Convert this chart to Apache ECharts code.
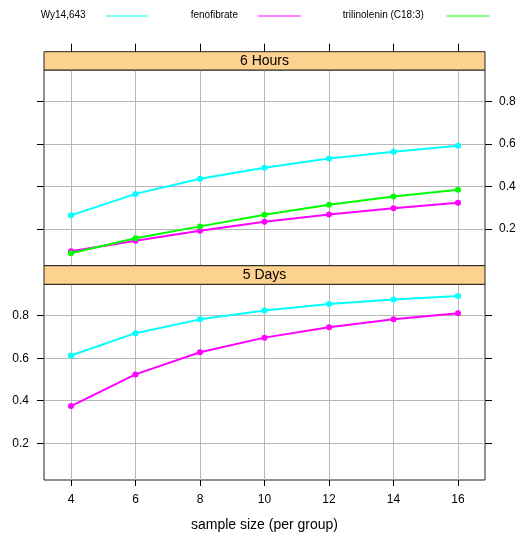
<!DOCTYPE html>
<html>
<head>
<meta charset="utf-8">
<script src="https://cdn.jsdelivr.net/npm/echarts@6/dist/echarts.min.js"></script>
<style>html,body{margin:0;padding:0;background:#fff}#c{width:521px;height:533px}</style>
</head>
<body>
<div id="c"></div>
<script>
const sampleSizes = [4, 6, 8, 10, 12, 14, 16];
const xTicks = [4, 6, 8, 10, 12, 14, 16];
const yTicks = [0.2, 0.4, 0.6, 0.8];
const seriesNames = ['Wy14,643', 'fenofibrate', 'trilinolenin (C18:3)'];
const seriesColors = ['#00FFFF', '#FF00FF', '#00FF00'];
const panelNames = ['6 Hours', '5 Days'];
// 6 Hours panel
const hours6_wy = [0.264, 0.365, 0.436, 0.488, 0.531, 0.563, 0.591];
const hours6_feno = [0.095, 0.144, 0.192, 0.234, 0.268, 0.297, 0.323];
const hours6_tri = [0.086, 0.156, 0.212, 0.267, 0.314, 0.353, 0.384];
// 5 Days panel
const days5_wy = [0.613, 0.718, 0.783, 0.825, 0.855, 0.877, 0.893];
const days5_feno = [0.375, 0.524, 0.628, 0.697, 0.746, 0.783, 0.812];

const X_MIN = 3.163, X_MAX = 16.837, Y_MIN = 0.027, Y_MAX = 0.948;
const FONT = 'Liberation Sans, Arial, sans-serif';
const gridLine = { show: true, lineStyle: { color: '#b8b8b8', width: 1 } };

function pairs(ys) { return sampleSizes.map((x, i) => [x, ys[i]]); }

const chart = echarts.init(document.getElementById('c'), null, { renderer: 'canvas' });

function xAxisDef(gridIndex, opts) {
  return Object.assign({
    type: 'value', gridIndex, min: X_MIN, max: X_MAX,
    axisLine: { show: false },
    axisTick: { show: false, customValues: xTicks },
    axisLabel: { show: false, customValues: xTicks },
    splitLine: { show: false }
  }, opts);
}
function yAxisDef(gridIndex, opts) {
  return Object.assign({
    type: 'value', gridIndex, min: Y_MIN, max: Y_MAX,
    axisLine: { show: false },
    axisTick: { show: true, inside: false, length: 7, lineStyle: { color: '#000' }, customValues: yTicks },
    axisLabel: { show: false, customValues: yTicks, color: '#000', fontSize: 12, fontFamily: FONT, margin: 14, formatter: v => v.toFixed(1) },
    splitLine: { show: false }
  }, opts);
}

const lineSeries = (name, color, data, xi, yi) => ({
  name, type: 'line', xAxisIndex: xi, yAxisIndex: yi, data: pairs(data),
  symbol: 'circle', symbolSize: 6, showSymbol: true,
  lineStyle: { color, width: 2 }, itemStyle: { color },
  animation: false, silent: true, z: 3
});

const legendX = [[40.7, 106, 148], [190.7, 258, 300.7], [342.7, 446.7, 489.3]];
const legendGraphics = [];
seriesNames.forEach((n, i) => {
  legendGraphics.push({ type: 'text', left: legendX[i][0], top: 10, style: { text: n, fill: '#000', font: '10px ' + FONT } });
  legendGraphics.push({ type: 'line', shape: { x1: legendX[i][1], y1: 16, x2: legendX[i][2], y2: 16 }, style: { stroke: seriesColors[i], lineWidth: 1 } });
});

const strips = [[51.7, 18.3], [265.7, 18.6]];
const stripGraphics = [];
strips.forEach((s, i) => {
  stripGraphics.push({ type: 'rect', shape: { x: 44, y: s[0], width: 441, height: s[1] }, style: { fill: '#FDD18E', stroke: '#222', lineWidth: 1 }, z: 10 });
  stripGraphics.push({ type: 'text', x: 264.5, y: s[0] + s[1] / 2, style: { text: panelNames[i], fill: '#000', font: '14px ' + FONT, align: 'center', verticalAlign: 'middle' }, z: 11 });
});

chart.setOption({
  animation: false,
  backgroundColor: '#fff',
  grid: [
    { left: 44, width: 441, top: 70, height: 195.7, show: true, borderColor: '#222', borderWidth: 1, backgroundColor: 'transparent' },
    { left: 44, width: 441, top: 284.3, height: 196.7, show: true, borderColor: '#222', borderWidth: 1, backgroundColor: 'transparent' }
  ],
  xAxis: [
    xAxisDef(0, { position: 'bottom', axisTick: { show: false, customValues: xTicks }, splitLine: gridLine }),
    xAxisDef(0, { position: 'top', offset: 18.3, axisTick: { show: true, length: 8, lineStyle: { color: '#000' }, customValues: xTicks } }),
    xAxisDef(1, { position: 'bottom', splitLine: gridLine,
      axisTick: { show: true, length: 6, lineStyle: { color: '#000' }, customValues: xTicks },
      axisLabel: { show: true, customValues: xTicks, color: '#000', fontSize: 12, fontFamily: FONT, margin: 14 },
      name: 'sample size (per group)', nameLocation: 'middle', nameGap: 38,
      nameTextStyle: { color: '#000', fontSize: 14, fontFamily: FONT } })
  ],
  yAxis: [
    yAxisDef(0, { position: 'left', splitLine: gridLine }),
    yAxisDef(0, { position: 'right', axisLabel: { show: true, customValues: yTicks, color: '#000', fontSize: 12, fontFamily: FONT, margin: 14, formatter: v => v.toFixed(1) } }),
    yAxisDef(1, { position: 'left', splitLine: gridLine, axisLabel: { show: true, customValues: yTicks, color: '#000', fontSize: 12, fontFamily: FONT, margin: 15, formatter: v => v.toFixed(1) } }),
    yAxisDef(1, { position: 'right' })
  ],
  series: [
    lineSeries(seriesNames[0], seriesColors[0], hours6_wy, 0, 0),
    lineSeries(seriesNames[1], seriesColors[1], hours6_feno, 0, 0),
    lineSeries(seriesNames[2], seriesColors[2], hours6_tri, 0, 0),
    lineSeries(seriesNames[0], seriesColors[0], days5_wy, 2, 2),
    lineSeries(seriesNames[1], seriesColors[1], days5_feno, 2, 2)
  ],
  graphic: legendGraphics.concat(stripGraphics)
});
</script>
</body>
</html>
